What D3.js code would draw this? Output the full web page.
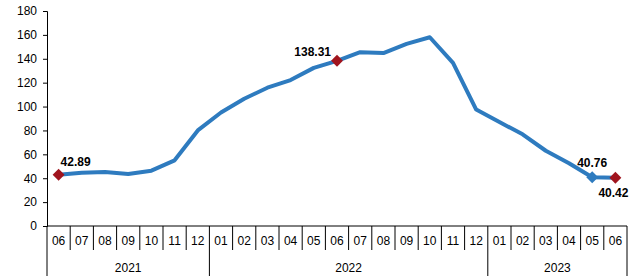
<!DOCTYPE html>
<html>
<head>
<meta charset="utf-8">
<script src="https://cdn.jsdelivr.net/npm/d3@7"></script>
<style>
  body { margin: 0; background: #fff; }
  text { font-family: "Liberation Sans", Arial, sans-serif; }
</style>
</head>
<body>
<div id="chart"></div>
<script>
// data
const months = ["06","07","08","09","10","11","12",
  "01","02","03","04","05","06","07","08","09","10","11","12",
  "01","02","03","04","05","06"];
const years = ["2021","2022","2023"];
const yearOf = [0,0,0,0,0,0,0, 1,1,1,1,1,1,1,1,1,1,1,1, 2,2,2,2,2,2];
const values = [42.89, 44.5, 45.3, 43.6, 46.3, 55, 80,
  95, 106.5, 115.8, 122.2, 132.4, 138.31, 145.5, 144.8, 152.5, 158,
  136.5, 97.5, 87, 76.8, 63, 52.5, 40.76, 40.42];
const yTicks = [0,20,40,60,80,100,120,140,160,180];
// labelled points: index, marker colour, label position
const marks = [
  {i: 0, color: "#A0141E", dx: 2, dy: -13, anchor: "start"},
  {i: 12, color: "#A0141E", dx: -6, dy: -9, anchor: "end"},
  {i: 23, color: "#2E7BBF", dx: 0, dy: -15, anchor: "middle"},
  {i: 24, color: "#A0141E", dx: -2, dy: 15, anchor: "middle"}
];

const width = 635, height = 277;
const margin = {top: 11, right: 8, bottom: 51, left: 47};
const innerWidth = width - margin.left - margin.right;
const innerHeight = height - margin.top - margin.bottom;

const svg = d3.select("#chart").append("svg")
  .attr("width", width)
  .attr("height", height);

const g = svg.append("g")
  .attr("transform", `translate(${margin.left},${margin.top})`);

const idx = d3.range(months.length);

const xScale = d3.scaleBand()
  .domain(idx)
  .range([0, innerWidth])
  .padding(0);

const yScale = d3.scaleLinear()
  .domain([0, 180])
  .range([innerHeight, 0]);

// y axis
const yAxisG = g.append("g")
  .call(d3.axisLeft(yScale).tickValues(yTicks).tickSize(4).tickPadding(6));
yAxisG.select(".domain").attr("stroke", "#000");
yAxisG.selectAll("text")
  .attr("font-size", "12px")
  .attr("fill", "#000");

// x axis (month row)
const xAxisG = g.append("g")
  .attr("transform", `translate(0,${innerHeight})`);

xAxisG.append("line")
  .attr("x1", 0).attr("x2", innerWidth)
  .attr("stroke", "#000");

xAxisG.selectAll(".sep")
  .data(d3.range(months.length + 1))
  .enter().append("line")
    .attr("class", "sep")
    .attr("x1", d => d === months.length ? innerWidth : xScale(d))
    .attr("x2", d => d === months.length ? innerWidth : xScale(d))
    .attr("y1", 0)
    .attr("y2", d => {
      if (d === 0 || d === months.length) return 50;
      return yearOf[d] !== yearOf[d - 1] ? 50 : 24;
    })
    .attr("stroke", "#000");

xAxisG.selectAll(".month")
  .data(idx)
  .enter().append("text")
    .attr("class", "month")
    .attr("x", d => xScale(d) + xScale.bandwidth() / 2)
    .attr("y", 15)
    .attr("dy", "0.35em")
    .attr("text-anchor", "middle")
    .attr("font-size", "12px")
    .text(d => months[d]);

// year row
xAxisG.selectAll(".year")
  .data(years)
  .enter().append("text")
    .attr("class", "year")
    .attr("x", (d, k) => {
      const ii = idx.filter(i => yearOf[i] === k);
      return (xScale(ii[0]) + xScale(ii[ii.length - 1]) + xScale.bandwidth()) / 2;
    })
    .attr("y", 42)
    .attr("dy", "0.35em")
    .attr("text-anchor", "middle")
    .attr("font-size", "12px")
    .text(d => d);

// line
const line = d3.line()
  .x(i => xScale(i) + xScale.bandwidth() / 2)
  .y(i => yScale(values[i]));

g.append("path")
  .datum(idx)
  .attr("d", line)
  .attr("fill", "none")
  .attr("stroke", "#2E7BBF")
  .attr("stroke-width", 4)
  .attr("stroke-linejoin", "round");

// markers + labels
const diamond = d3.symbol().type(d3.symbolDiamond2).size(90);

g.selectAll(".mk")
  .data(marks)
  .enter().append("path")
    .attr("class", "mk")
    .attr("d", diamond)
    .attr("transform", d => `translate(${xScale(d.i) + xScale.bandwidth() / 2},${yScale(values[d.i])})`)
    .attr("fill", d => d.color);

g.selectAll(".lbl")
  .data(marks)
  .enter().append("text")
    .attr("class", "lbl")
    .attr("x", d => xScale(d.i) + xScale.bandwidth() / 2 + d.dx)
    .attr("y", d => yScale(values[d.i]) + d.dy)
    .attr("dy", "0.35em")
    .attr("text-anchor", d => d.anchor)
    .attr("font-size", "12px")
    .attr("font-weight", "bold")
    .text(d => values[d.i].toFixed(2));
</script>
</body>
</html>
